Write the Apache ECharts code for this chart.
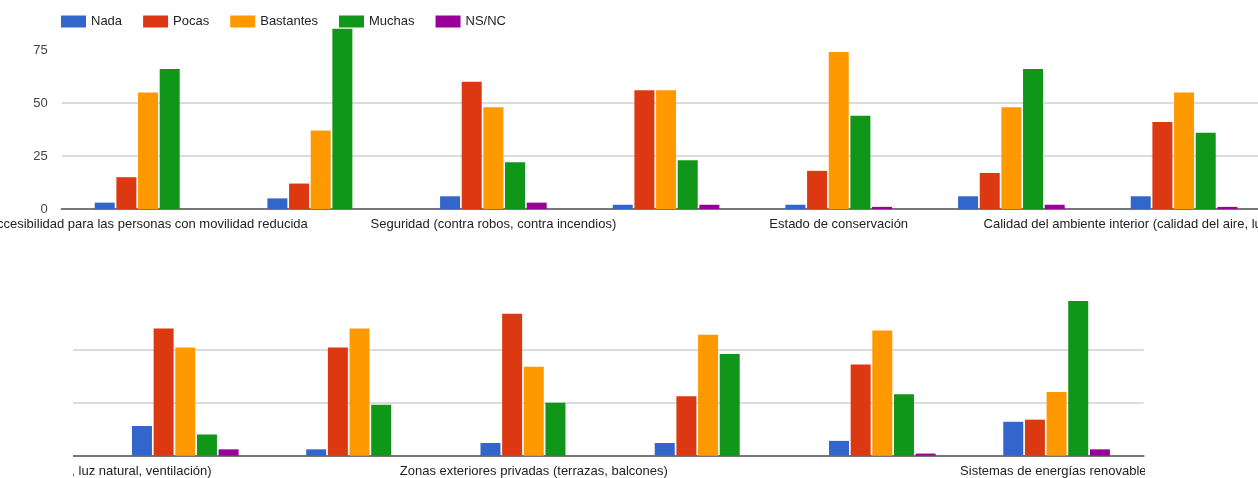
<!DOCTYPE html>
<html>
<head>
<meta charset="utf-8">
<script src="https://cdn.jsdelivr.net/npm/echarts@6/dist/echarts.min.js"></script>
<style>
  html, body { margin: 0; padding: 0; background: #fff; width: 1258px; height: 478px; overflow: hidden; }
  #chartTop { position: absolute; left: 0; top: 0; width: 1258px; height: 240px; }
  #chartBottom { position: absolute; left: 73px; top: 240px; width: 1072px; height: 238px; }
</style>
</head>
<body>
<div id="chartTop"></div>
<div id="chartBottom"></div>
<script>
// Aspects of the dwelling, with the number of answers per level of importance.
// Categories whose label is not printed on the axis are left blank.
const categories = [
  'Accesibilidad para las personas con movilidad reducida',
  '',
  'Seguridad (contra robos, contra incendios)',
  '',
  'Estado de conservación',
  '',
  'Calidad del ambiente interior (calidad del aire, luz natural, ventilación)',
  '',
  '',
  'Zonas exteriores privadas (terrazas, balcones)',
  '',
  '',
  'Sistemas de energías renovables'
];

const seriesNames = ['Nada', 'Pocas', 'Bastantes', 'Muchas', 'NS/NC'];
const nada      = [3, 5, 6, 2, 2, 6, 6, 14, 3, 6, 6, 7, 16];
const pocas     = [15, 12, 60, 56, 18, 17, 41, 60, 51, 67, 28, 43, 17];
const bastantes = [55, 37, 48, 56, 74, 48, 55, 51, 60, 42, 57, 59, 30];
const muchas    = [66, 85, 22, 23, 44, 66, 36, 10, 24, 25, 48, 29, 73];
const nsnc      = [0, 0, 3, 2, 1, 2, 1, 3, 0, 0, 0, 1, 3];

const yMin = 0;
const yMax = 75;
const yStep = 25;

const palette = ['#3366cc', '#dc3912', '#ff9900', '#109618', '#990099'];
const FONT = '"Liberation Sans", Arial, sans-serif';

function buildOption(cfg) {
  const values = [nada, pocas, bastantes, muchas, nsnc];
  const cats = categories.slice(cfg.from, cfg.to);
  return {
    animation: false,
    textStyle: { fontFamily: FONT },
    legend: cfg.legend ? {
      left: 56, top: 10,
      icon: 'rect', itemWidth: 25, itemHeight: 12, itemGap: 21,
      textStyle: { fontFamily: FONT, fontSize: 13, color: '#222' },
      data: seriesNames
    } : { show: false },
    grid: Object.assign({ outerBoundsMode: 'none', containLabel: false }, cfg.grid),
    xAxis: {
      type: 'category',
      data: cats,
      boundaryGap: true,
      axisTick: { show: false },
      axisLine: { show: true, lineStyle: { color: '#777', width: 2 } },
      axisLabel: {
        interval: cfg.labelInterval,
        margin: 9,
        fontFamily: FONT, fontSize: 13, color: '#222'
      },
      splitLine: { show: false }
    },
    yAxis: {
      type: 'value',
      min: yMin, max: yMax, interval: yStep,
      axisLine: { show: false },
      axisTick: { show: false },
      axisLabel: {
        show: cfg.yLabels, margin: 14,
        fontFamily: FONT, fontSize: 13, color: '#444'
      },
      splitLine: {
        show: true, showMaxLine: false,
        lineStyle: { color: '#dcdcdc', width: 2 }
      }
    },
    series: seriesNames.map((name, i) => ({
      name: name,
      type: 'bar',
      data: values[i].slice(cfg.from, cfg.to),
      barWidth: 20,
      barGap: '8.3%',
      clip: false,
      itemStyle: { color: palette[i] },
      emphasis: { disabled: true }
    }))
  };
}

// First row: aspects 1 to 7 (the seventh runs past the right edge).
const topChart = echarts.init(document.getElementById('chartTop'), null, { renderer: 'canvas' });
topChart.setOption(buildOption({
  from: 0, to: 7,
  legend: true,
  yLabels: true,
  labelInterval: 1,
  grid: { left: 61.7, top: 50, width: 1208.7, height: 159 }
}));

// Second row: continues from the seventh aspect through the thirteenth.
const bottomChart = echarts.init(document.getElementById('chartBottom'), null, { renderer: 'canvas' });
bottomChart.setOption(buildOption({
  from: 6, to: 13,
  legend: false,
  yLabels: false,
  labelInterval: 2,
  grid: { left: -149.1, top: 56.7, width: 1219.8, height: 159 }
}));
</script>
</body>
</html>
